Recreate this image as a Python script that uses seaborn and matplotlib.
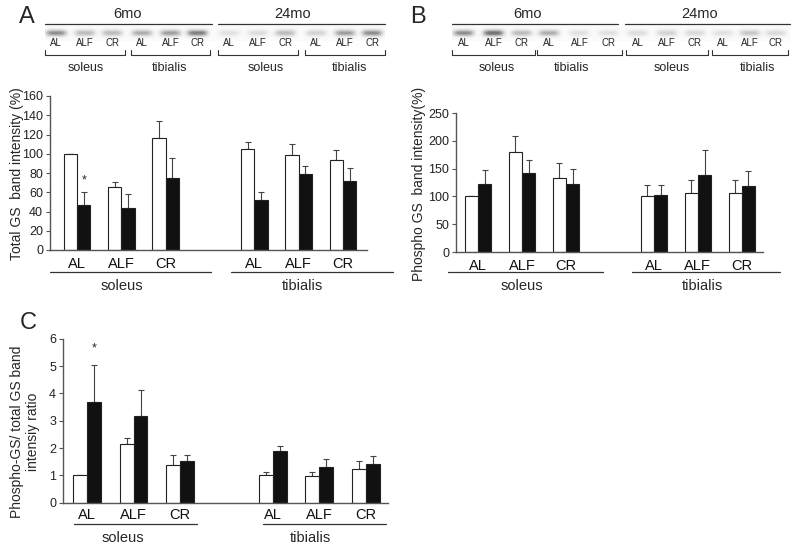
import numpy as np
import pandas as pd
import matplotlib
matplotlib.use('Agg')
import matplotlib.pyplot as plt
import seaborn as sns

diets = ['AL', 'ALF', 'CR']
muscles = ['soleus', 'tibialis']
ages = ['6mo', '24mo']
positions = [0, 1, 2, 4, 5, 6]

# A: total GS band intensity (%), soleus AL/ALF/CR then tibialis AL/ALF/CR
total_6mo = [100, 65, 116, 105, 99, 94]
total_6mo_err = [0, 6, 18, 7, 11, 10]
total_24mo = [47, 44, 75, 52, 79, 72]
total_24mo_err = [13, 14, 21, 8, 8, 13]

# B: phospho GS band intensity (%)
phospho_6mo = [100, 179, 133, 101, 107, 106]
phospho_6mo_err = [0, 29, 27, 19, 23, 24]
phospho_24mo = [123, 142, 123, 103, 139, 119]
phospho_24mo_err = [25, 23, 26, 17, 44, 26]

# C: phospho / total ratio
ratio_6mo = [1.0, 2.13, 1.38, 1.01, 0.96, 1.22]
ratio_6mo_err = [0, 0.22, 0.35, 0.12, 0.15, 0.29]
ratio_24mo = [3.67, 3.18, 1.51, 1.88, 1.30, 1.43]
ratio_24mo_err = [1.38, 0.93, 0.23, 0.18, 0.29, 0.27]

# western blot band darkness (6mo sol, 6mo tib, 24mo sol, 24mo tib)
blot_total = [0.5, 0.35, 0.35, 0.4, 0.45, 0.55, 0.18, 0.2, 0.35, 0.25, 0.45, 0.5]
blot_phospho = [0.5, 0.6, 0.35, 0.4, 0.18, 0.18, 0.2, 0.25, 0.22, 0.18, 0.3, 0.22]

sns.set_style('ticks')
plt.rcParams['font.family'] = ['Liberation Sans', 'DejaVu Sans']

W, H = 800, 549
fig = plt.figure(figsize=(8, 5.49), dpi=100)


def px_rect(left, right, bottom, top):
    return [left / W, 1 - bottom / H, (right - left) / W, (bottom - top) / H]


def bar_panel(ax, v6, e6, v24, e24, ymax, ystep, xlim, pad):
    df = pd.DataFrame({'pos': positions * 2, 'value': v6 + v24,
                       'age': [ages[0]] * 6 + [ages[1]] * 6})
    sns.barplot(data=df, x='pos', y='value', hue='age', hue_order=ages,
                palette=['white', '#111111'], saturation=1, native_scale=True,
                width=0.6, edgecolor='#222222', linewidth=0.8, errorbar=None,
                legend=False, ax=ax)
    x = np.array(positions, dtype=float)
    for off, v, e in [(-0.15, v6, e6), (0.15, v24, e24)]:
        ax.errorbar(x + off, v, yerr=[np.zeros(len(e)), e], fmt='none',
                    ecolor='#444444', elinewidth=0.8, capsize=2.5, capthick=0.8,
                    zorder=0.9)
    ax.set_xlim(*xlim)
    ax.set_ylim(0, ymax)
    ax.set_yticks(np.arange(0, ymax + ystep / 2, ystep))
    ax.set_xticks(positions)
    ax.set_xticklabels(diets * 2, fontsize=10.5)
    ax.set_xlabel('')
    ax.set_ylabel('')
    sns.despine(ax=ax)
    for s in ['left', 'bottom']:
        ax.spines[s].set_color('#555555')
        ax.spines[s].set_linewidth(1)
    ax.tick_params(axis='x', length=0, pad=pad, colors='#111111')
    ax.tick_params(axis='y', length=3, width=0.8, labelsize=9, color='#555555',
                   labelcolor='#222222', pad=2)


axA = fig.add_axes(px_rect(50, 367, 250, 96))
bar_panel(axA, total_6mo, total_6mo_err, total_24mo, total_24mo_err, 160, 20, (-0.61, 6.54), 5)
axA.text(0.15, 72, '*', ha='center', va='center', fontsize=9)

axB = fig.add_axes(px_rect(456, 763, 252, 113))
bar_panel(axB, phospho_6mo, phospho_6mo_err, phospho_24mo, phospho_24mo_err, 250, 50, (-0.5, 6.48), 5)

axC = fig.add_axes(px_rect(63, 388, 502.7, 338.7))
bar_panel(axC, ratio_6mo, ratio_6mo_err, ratio_24mo, ratio_24mo_err, 6, 1, (-0.52, 6.48), 4)
axC.text(0.15, 5.65, '*', ha='center', va='center', fontsize=9)

# overlay in pixel coordinates for labels, brackets and blots
ov = fig.add_axes([0, 0, 1, 1])
ov.set_xlim(0, W)
ov.set_ylim(H, 0)
ov.axis('off')
lc = '#333333'

ov.text(17, 174, 'Total GS  band intensity (%)', rotation=90, ha='center', va='center', fontsize=10)
ov.text(419, 184, 'Phospho GS  band intensity(%)', rotation=90, ha='center', va='center', fontsize=10)
ov.text(25, 432, 'Phospho-GS/ total GS band\nintensiy ratio', rotation=90, ha='center',
        va='center', fontsize=10, linespacing=1.25)

# muscle underlines below bar panels
for spans, y, labels in [
    ([(50, 211), (231, 393)], 272, [(122, 'soleus'), (302, 'tibialis')]),
    ([(448, 603), (632, 780)], 272, [(522, 'soleus'), (702, 'tibialis')]),
    ([(74, 197), (263, 386)], 524, [(123, 'soleus'), (310, 'tibialis')]),
]:
    for (a, b) in spans:
        ov.plot([a, b], [y, y], color=lc, lw=0.9)
    for lx, t in labels:
        ov.text(lx, y + 14, t, ha='center', va='center', fontsize=10.5)

ov.text(27, 17, 'A', ha='center', va='center', fontsize=17)
ov.text(418, 17, 'B', ha='center', va='center', fontsize=17)
ov.text(28, 323, 'C', ha='center', va='center', fontsize=17)


def draw_blot(age_spans, age_x, brackets, group_x, levels):
    for (a, b), ax_, t in zip(age_spans, age_x, ages):
        ov.plot([a, b], [24, 24], color=lc, lw=0.9)
        ov.text(ax_, 14, t, ha='center', va='center', fontsize=10.5)
    lanes = []
    for (a, b), gx, m in zip(brackets, group_x, muscles * 2):
        ov.plot([a, a, b, b], [50, 55, 55, 50], color=lc, lw=0.8)
        ov.text(gx, 68, m, ha='center', va='center', fontsize=9)
        for f, d in zip([0.14, 0.5, 0.84], diets):
            lx = a + f * (b - a)
            lanes.append(lx)
            ov.text(lx, 43.5, d, ha='center', va='center', fontsize=7)
    x0, x1 = age_spans[0][0], age_spans[1][1]
    xs = np.arange(x0, x1) + 0.5
    ys = np.arange(26, 41) + 0.5
    X, Y = np.meshgrid(xs, ys)
    img = np.full_like(X, 0.03)
    for cx, lv in zip(lanes, levels):
        img += lv * np.exp(-((X - cx) / 11.0) ** 4) * np.exp(-((Y - 33) / 3.6) ** 2)
    ov.imshow(img, cmap='Greys', vmin=0, vmax=1, extent=(x0, x1, 41, 26),
              aspect='auto', interpolation='bicubic')


draw_blot([(45, 212), (218, 385)], [128, 293],
          [(45, 125), (131, 210), (218, 298), (305, 385)], [86, 170, 266, 350], blot_total)
draw_blot([(452, 618), (625, 790)], [528, 700],
          [(452, 535), (537, 622), (626, 708), (712, 788)], [497, 572, 672, 758], blot_phospho)
ov.set_xlim(0, W)
ov.set_ylim(H, 0)

fig.savefig('out.png', dpi=100)
